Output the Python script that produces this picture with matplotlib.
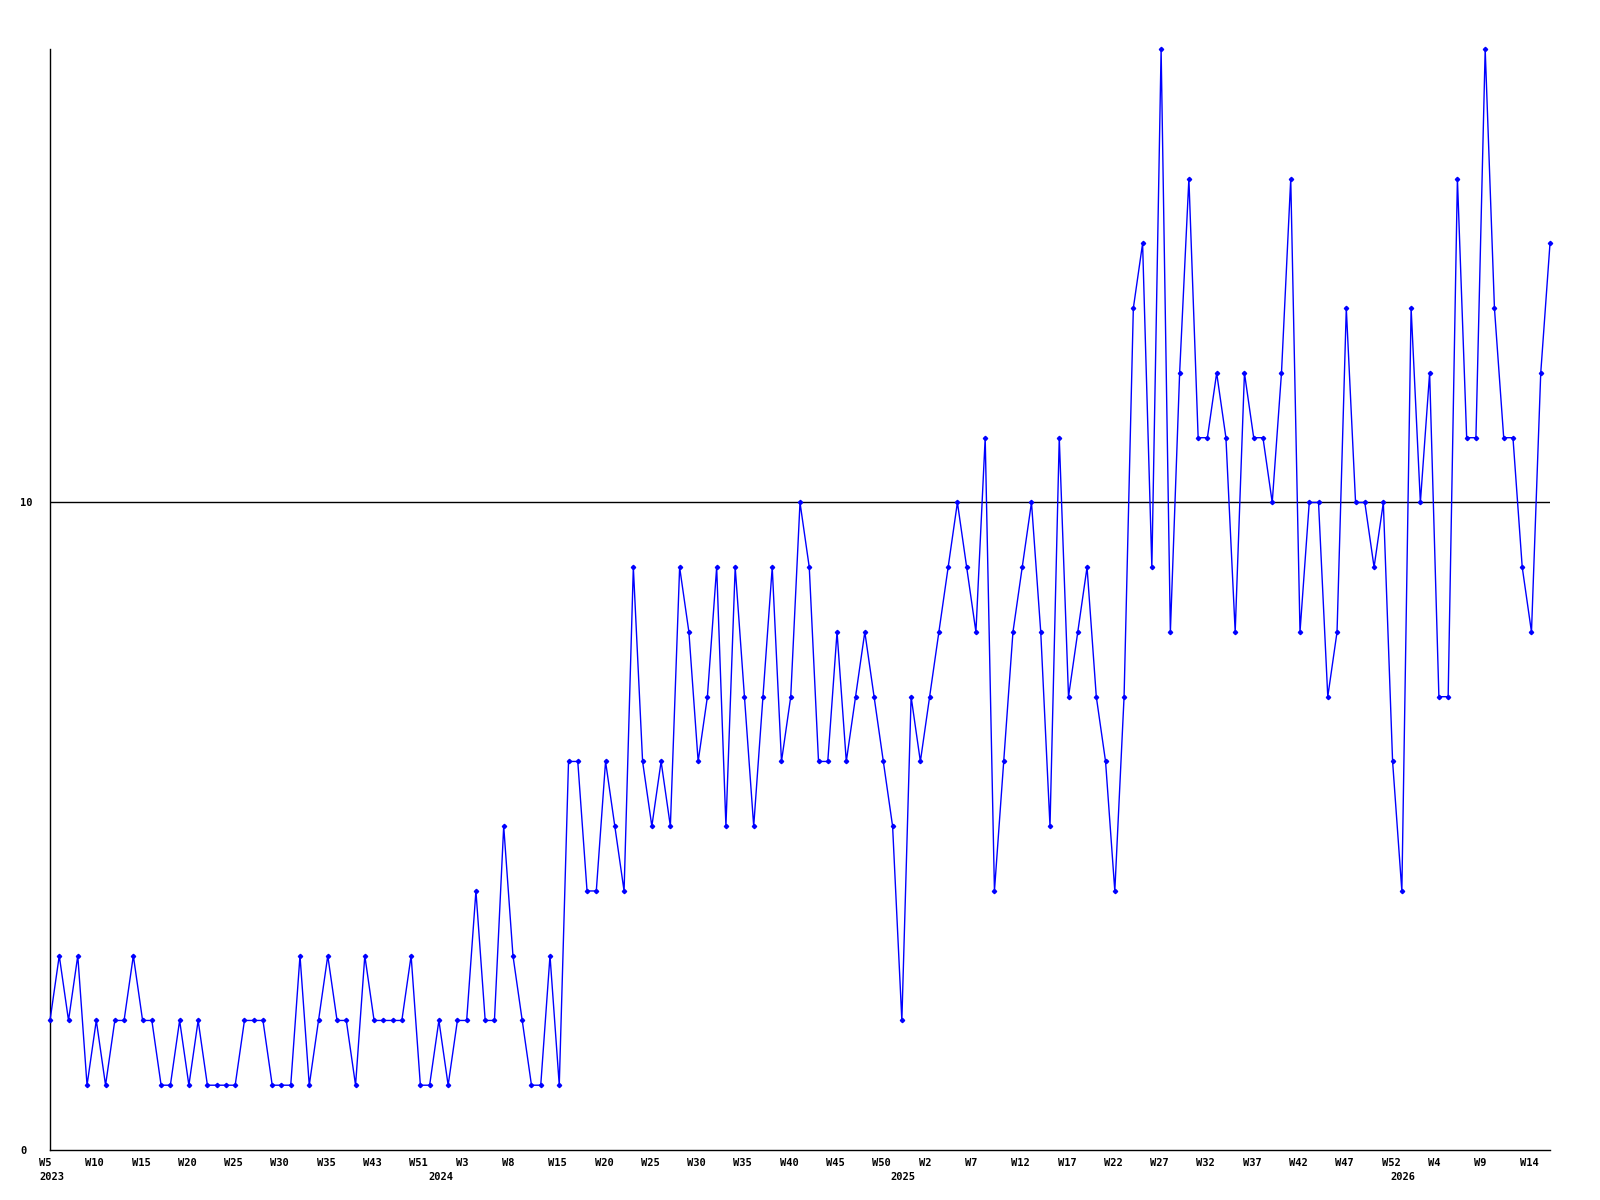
import matplotlib
matplotlib.use("Agg")
import matplotlib.pyplot as plt
import matplotlib.transforms as mtransforms

# weekly counts, one per point (x axis is the point index)
values = [2, 3, 2, 3, 1, 2, 1, 2, 2, 3, 2, 2, 1, 1, 2, 1, 2, 1, 1, 1,
          1, 2, 2, 2, 1, 1, 1, 3, 1, 2, 3, 2, 2, 1, 3,
          2, 2, 2, 2, 3, 1, 1, 2, 1, 2, 2, 4, 2, 2, 5, 3, 2, 1, 1, 3, 1,
          6, 6, 4, 4, 6, 5, 4, 9, 6, 5, 6, 5, 9, 8, 6, 7, 9, 5, 9, 7,
          5, 7, 9, 6, 7, 10, 9, 6, 6, 8, 6, 7, 8, 7, 6, 5, 2, 7, 6, 7,
          8, 9, 10, 9, 8, 11, 4, 6, 8, 9, 10, 8, 5, 11, 7, 8, 9, 7, 6, 4,
          7, 13, 14, 9, 17, 8, 12, 15, 11, 11, 12, 11, 8, 12, 11, 11, 10, 12, 15, 8,
          10, 10, 7, 8, 13, 10, 10, 9, 10, 6, 4, 13, 10, 12, 7, 7, 15, 11, 11, 17,
          13, 11, 11, 9, 8, 12, 14]

week_labels = ["W5", "W10", "W15", "W20", "W25", "W30", "W35", "W43", "W51",
               "W3", "W8", "W15", "W20", "W25", "W30", "W35", "W40", "W45", "W50",
               "W2", "W7", "W12", "W17", "W22", "W27", "W32", "W37", "W42", "W47", "W52",
               "W4", "W9", "W14"]
week_ticks = list(range(0, 5 * len(week_labels), 5))

years = ["2023", "2024", "2025", "2026"]
year_ticks = [0, 42, 92, 146]

font = dict(family="DejaVu Sans Mono", weight="bold", size=7.5)

fig = plt.figure(figsize=(16, 12), dpi=100)
ax = fig.add_axes([0.03125, 0.0417, 0.9375, 0.9173])

x = list(range(len(values)))
ax.plot(x, values, color="#0000ff", linewidth=1.0, marker="D", markersize=2.2,
        clip_on=False, zorder=3)
ax.axhline(10, color="black", linewidth=1.0, zorder=2)

ax.set_xlim(0, len(values) - 1)
ax.set_ylim(0, 17)

for side in ["top", "right"]:
    ax.spines[side].set_visible(False)
for side in ["left", "bottom"]:
    ax.spines[side].set_color("black")
    ax.spines[side].set_linewidth(1.0)

ax.set_xticks(week_ticks)
ax.set_xticklabels(week_labels, fontdict=font, ha="left")
ax.tick_params(axis="x", length=0, pad=6)

shift = mtransforms.ScaledTranslation(-11 / 100, 0, fig.dpi_scale_trans)
for lab in ax.get_xticklabels():
    lab.set_transform(lab.get_transform() + shift)

# year names on a second row under the week labels
year_shift = mtransforms.ScaledTranslation(-11 / 100, -27 / 100, fig.dpi_scale_trans)
trans = mtransforms.blended_transform_factory(ax.transData, ax.transAxes) + year_shift
for pos, yr in zip(year_ticks, years):
    ax.text(pos, 0, yr, transform=trans, ha="left", va="center", **font)

ax.set_yticks([0, 10])
ax.set_yticklabels(["0", "10"], fontdict=font, ha="left")
ax.tick_params(axis="y", length=0, pad=21.3)

fig.savefig("out.png", dpi=100, facecolor="white")
